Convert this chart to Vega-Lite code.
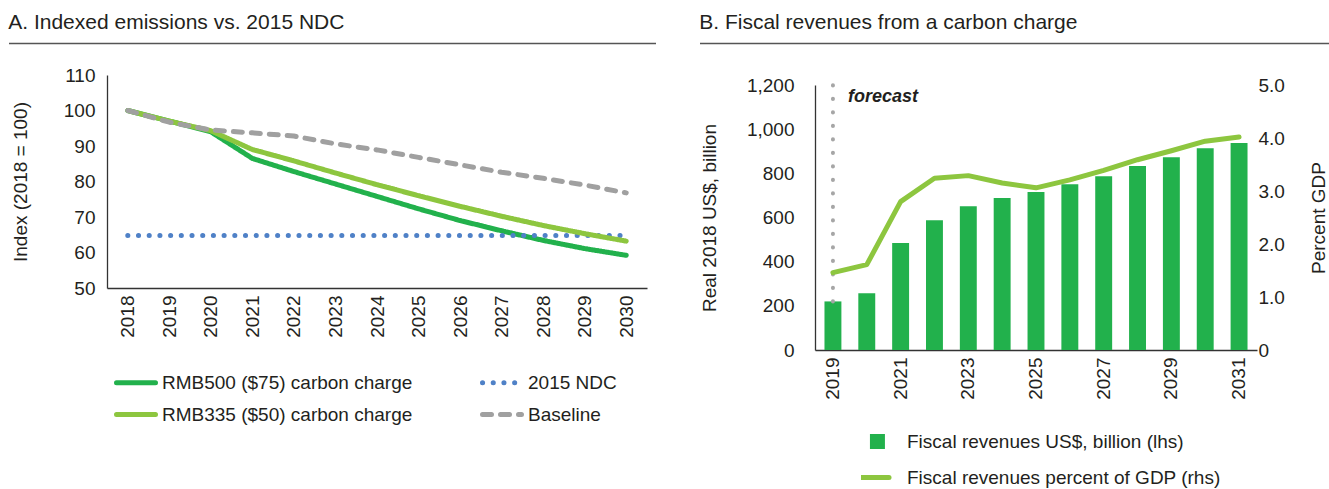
{
  "$schema": "https://vega.github.io/schema/vega-lite/v6.json",
  "padding": {"left": 8, "top": 11, "right": 0, "bottom": 0},
  "background": "white",
  "config": {
    "font": "Liberation Sans",
    "view": {"stroke": null},
    "axis": {"labelFontSize": 19, "titleFontSize": 19, "labelColor": "#231f20", "titleColor": "#231f20", "titleFontWeight": "normal", "ticks": false, "tickSize": 0, "grid": false, "domainColor": "#333333", "domainWidth": 1.3},
    "legend": {"labelFontSize": 19, "labelColor": "#231f20", "labelLimit": 400},
    "title": {"fontSize": 21, "fontWeight": "normal", "color": "#231f20", "anchor": "start", "offset": 10, "frame": "bounds"}
  },
  "resolve": {
    "scale": {"color": "independent", "strokeDash": "independent"},
    "legend": {"color": "independent", "strokeDash": "independent"}
  },
  "spacing": 42,
  "hconcat": [
    {
      "spacing": 21,
      "vconcat": [
        {
          "width": 540, "height": 1,
          "title": {"text": "A. Indexed emissions vs. 2015 NDC"},
          "data": {"values": [{"a": 0, "b": 1}]},
          "mark": {"type": "rule", "color": "#555555", "strokeWidth": 1.5},
          "encoding": {
            "x": {"field": "a", "type": "quantitative", "scale": {"domain": [0, 1], "range": [-98, 549]}, "axis": null},
            "x2": {"field": "b"}
          }
        },
        {
          "width": 540, "height": 213,
          "data": {"values": [
            {"year": 2018, "series": "RMB500 ($75) carbon charge", "value": 100},
            {"year": 2019, "series": "RMB500 ($75) carbon charge", "value": 97.0},
            {"year": 2020, "series": "RMB500 ($75) carbon charge", "value": 94.0},
            {"year": 2021, "series": "RMB500 ($75) carbon charge", "value": 86.5},
            {"year": 2022, "series": "RMB500 ($75) carbon charge", "value": 82.8},
            {"year": 2023, "series": "RMB500 ($75) carbon charge", "value": 79.3},
            {"year": 2024, "series": "RMB500 ($75) carbon charge", "value": 75.8},
            {"year": 2025, "series": "RMB500 ($75) carbon charge", "value": 72.3},
            {"year": 2026, "series": "RMB500 ($75) carbon charge", "value": 69.0},
            {"year": 2027, "series": "RMB500 ($75) carbon charge", "value": 66.1},
            {"year": 2028, "series": "RMB500 ($75) carbon charge", "value": 63.4},
            {"year": 2029, "series": "RMB500 ($75) carbon charge", "value": 61.1},
            {"year": 2030, "series": "RMB500 ($75) carbon charge", "value": 59.2},
            {"year": 2018, "series": "2015 NDC", "value": 64.8},
            {"year": 2019, "series": "2015 NDC", "value": 64.8},
            {"year": 2020, "series": "2015 NDC", "value": 64.8},
            {"year": 2021, "series": "2015 NDC", "value": 64.8},
            {"year": 2022, "series": "2015 NDC", "value": 64.8},
            {"year": 2023, "series": "2015 NDC", "value": 64.8},
            {"year": 2024, "series": "2015 NDC", "value": 64.8},
            {"year": 2025, "series": "2015 NDC", "value": 64.8},
            {"year": 2026, "series": "2015 NDC", "value": 64.8},
            {"year": 2027, "series": "2015 NDC", "value": 64.8},
            {"year": 2028, "series": "2015 NDC", "value": 64.8},
            {"year": 2029, "series": "2015 NDC", "value": 64.8},
            {"year": 2030, "series": "2015 NDC", "value": 64.8},
            {"year": 2018, "series": "RMB335 ($50) carbon charge", "value": 100},
            {"year": 2019, "series": "RMB335 ($50) carbon charge", "value": 97.0},
            {"year": 2020, "series": "RMB335 ($50) carbon charge", "value": 94.3},
            {"year": 2021, "series": "RMB335 ($50) carbon charge", "value": 89.0},
            {"year": 2022, "series": "RMB335 ($50) carbon charge", "value": 85.8},
            {"year": 2023, "series": "RMB335 ($50) carbon charge", "value": 82.4},
            {"year": 2024, "series": "RMB335 ($50) carbon charge", "value": 79.1},
            {"year": 2025, "series": "RMB335 ($50) carbon charge", "value": 76.0},
            {"year": 2026, "series": "RMB335 ($50) carbon charge", "value": 73.0},
            {"year": 2027, "series": "RMB335 ($50) carbon charge", "value": 70.2},
            {"year": 2028, "series": "RMB335 ($50) carbon charge", "value": 67.6},
            {"year": 2029, "series": "RMB335 ($50) carbon charge", "value": 65.3},
            {"year": 2030, "series": "RMB335 ($50) carbon charge", "value": 63.2},
            {"year": 2018, "series": "Baseline", "value": 100},
            {"year": 2019, "series": "Baseline", "value": 96.7},
            {"year": 2020, "series": "Baseline", "value": 94.5},
            {"year": 2021, "series": "Baseline", "value": 93.7},
            {"year": 2022, "series": "Baseline", "value": 92.8},
            {"year": 2023, "series": "Baseline", "value": 90.6},
            {"year": 2024, "series": "Baseline", "value": 88.9},
            {"year": 2025, "series": "Baseline", "value": 86.8},
            {"year": 2026, "series": "Baseline", "value": 84.7},
            {"year": 2027, "series": "Baseline", "value": 82.6},
            {"year": 2028, "series": "Baseline", "value": 80.9},
            {"year": 2029, "series": "Baseline", "value": 79.0},
            {"year": 2030, "series": "Baseline", "value": 76.8}
          ]},
          "mark": {"type": "line", "strokeWidth": 5, "strokeCap": "round", "strokeJoin": "round"},
          "encoding": {
            "x": {"field": "year", "type": "ordinal", "axis": {"labelAngle": -90, "title": null, "labelPadding": 7}},
            "y": {"field": "value", "type": "quantitative", "scale": {"domain": [50, 110]},
                  "axis": {"values": [50, 60, 70, 80, 90, 100, 110], "title": "Index (2018 = 100)", "labelPadding": 12, "titlePadding": 33}},
            "color": {"field": "series", "type": "nominal",
              "scale": {"domain": ["RMB500 ($75) carbon charge", "RMB335 ($50) carbon charge", "2015 NDC", "Baseline"],
                        "range": ["#22b14c", "#8dc63f", "#4f81c7", "#a0a0a0"]},
              "legend": {"orient": "none", "legendX": 7, "legendY": 330, "columns": 2, "columnPadding": 67, "rowPadding": 12, "clipHeight": 19,
                         "symbolSize": 1521, "symbolStrokeWidth": 5, "labelOffset": 4, "symbolType": "stroke", "title": null,
                         "encode": {"symbols": {"update": {"strokeCap": {"value": "round"}}}}}},
            "strokeDash": {"field": "series", "type": "nominal",
              "scale": {"domain": ["RMB500 ($75) carbon charge", "RMB335 ($50) carbon charge", "2015 NDC", "Baseline"],
                        "range": [[1, 0], [1, 0], [0.1, 10.6], [9, 9]]},
              "legend": {"orient": "none", "legendX": 7, "legendY": 330, "columns": 2, "columnPadding": 67, "rowPadding": 12, "clipHeight": 19,
                         "symbolSize": 1521, "symbolStrokeWidth": 5, "labelOffset": 4, "symbolType": "stroke", "title": null,
                         "encode": {"symbols": {"update": {"strokeCap": {"value": "round"}}}}}}
          }
        }
      ]
    },
    {
      "spacing": 31,
      "vconcat": [
        {
          "width": 442, "height": 1,
          "title": {"text": "B. Fiscal revenues from a carbon charge"},
          "data": {"values": [{"a": 0, "b": 1}]},
          "mark": {"type": "rule", "color": "#555555", "strokeWidth": 1.5},
          "encoding": {
            "x": {"field": "a", "type": "quantitative", "scale": {"domain": [0, 1], "range": [-115, 517]}, "axis": null},
            "x2": {"field": "b"}
          }
        },
        {
          "width": 442, "height": 265,
          "data": {"values": [
            {"year": 2019, "rev": 220, "pct": 1.46},
            {"year": 2020, "rev": 257, "pct": 1.61},
            {"year": 2021, "rev": 484, "pct": 2.80},
            {"year": 2022, "rev": 588, "pct": 3.24},
            {"year": 2023, "rev": 651, "pct": 3.29},
            {"year": 2024, "rev": 688, "pct": 3.15},
            {"year": 2025, "rev": 715, "pct": 3.06},
            {"year": 2026, "rev": 751, "pct": 3.21},
            {"year": 2027, "rev": 787, "pct": 3.39},
            {"year": 2028, "rev": 833, "pct": 3.59},
            {"year": 2029, "rev": 873, "pct": 3.76},
            {"year": 2030, "rev": 914, "pct": 3.94},
            {"year": 2031, "rev": 937, "pct": 4.02}
          ]},
          "encoding": {
            "x": {"field": "year", "type": "ordinal", "scale": {"paddingInner": 0.5, "paddingOuter": 0.28},
                  "axis": {"labelAngle": -90, "title": null, "labelPadding": 7, "values": [2019, 2021, 2023, 2025, 2027, 2029, 2031]}}
          },
          "layer": [
            {
              "layer": [
                {
                  "mark": {"type": "bar"},
                  "encoding": {
                    "y": {"field": "rev", "type": "quantitative", "scale": {"domain": [0, 1200]},
                          "axis": {"values": [0, 200, 400, 600, 800, 1000, 1200], "labelExpr": "format(datum.value, ',')", "title": "Real 2018 US$, billion", "labelPadding": 21, "titlePadding": 27}},
                    "color": {"datum": "Fiscal revenues US$, billion (lhs)",
                      "scale": {"domain": ["Fiscal revenues US$, billion (lhs)", "Fiscal revenues percent of GDP (rhs)"], "range": ["#22b14c", "#8dc63f"]},
                      "legend": {"orient": "none", "legendX": 46, "legendY": 389, "rowPadding": 16, "clipHeight": 19, "symbolSize": 1369, "symbolStrokeWidth": 5, "labelOffset": 27, "title": null,
                        "encode": {"symbols": {"update": {
                          "shape": {"signal": "datum.value == 'Fiscal revenues US$, billion (lhs)' ? 'M-0.03,-0.405H0.78V0.405H-0.03Z' : 'stroke'"},
                          "strokeWidth": {"signal": "datum.value == 'Fiscal revenues US$, billion (lhs)' ? 0 : 5"},
                          "fill": {"signal": "datum.value == 'Fiscal revenues US$, billion (lhs)' ? '#22b14c' : 'transparent'"},
                          "stroke": {"signal": "datum.value == 'Fiscal revenues US$, billion (lhs)' ? '#22b14c' : '#8dc63f'"},
                          "strokeCap": {"value": "round"},
                          "opacity": {"value": 1}
                        }}}}}
                  }
                },
                {
                  "transform": [{"filter": "datum.year == 2019"}],
                  "mark": {"type": "rule", "color": "#a6a6a6", "strokeWidth": 4, "strokeDash": [0.1, 13.4], "strokeCap": "round"},
                  "encoding": {
                    "y": {"field": "rev", "type": "quantitative"},
                    "y2": {"datum": 1200}
                  }
                },
                {
                  "transform": [{"filter": "datum.year == 2019"}],
                  "mark": {"type": "text", "text": "forecast", "fontStyle": "italic", "fontWeight": "bold", "fontSize": 18, "align": "left", "baseline": "middle", "dx": 15, "color": "#231f20"},
                  "encoding": {
                    "y": {"datum": 1145, "type": "quantitative"}
                  }
                }
              ]
            },
            {
              "mark": {"type": "line", "strokeWidth": 5, "strokeCap": "round", "strokeJoin": "round"},
              "encoding": {
                "y": {"field": "pct", "type": "quantitative", "scale": {"domain": [0, 5]},
                      "axis": {"orient": "right", "domain": false, "values": [0, 1, 2, 3, 4, 5], "labelExpr": "datum.value == 0 ? '0' : format(datum.value, '.1f')", "title": "Percent GDP", "titleAngle": 270, "labelPadding": 1, "titlePadding": 44}},
                "color": {"datum": "Fiscal revenues percent of GDP (rhs)",
                  "scale": {"domain": ["Fiscal revenues US$, billion (lhs)", "Fiscal revenues percent of GDP (rhs)"], "range": ["#22b14c", "#8dc63f"]}}
              }
            }
          ],
          "resolve": {"scale": {"y": "independent"}}
        }
      ]
    }
  ]
}
